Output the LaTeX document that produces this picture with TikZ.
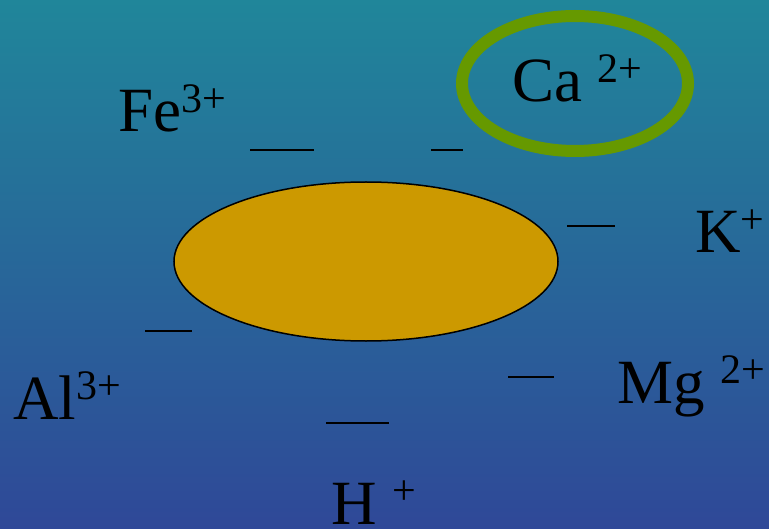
\documentclass[tikz,border=0pt]{standalone}
\usepackage{fontspec}
\setmainfont{Liberation Serif}
\usetikzlibrary{shapes.geometric}
\definecolor{bgtop}{RGB}{32,134,154}
\definecolor{bgbot}{RGB}{47,72,152}
\definecolor{clay}{RGB}{204,153,0}
\definecolor{ring}{RGB}{102,153,0}
\newcommand{\ionsup}[1]{\raisebox{19.5bp}{\fontsize{42bp}{42bp}\selectfont #1}}
\tikzset{
  ion/.style={anchor=base west, inner sep=0pt, outer sep=0pt, text=black,
    font=\fontsize{63bp}{63bp}\selectfont},
  charge/.style={draw=black, line width=2bp},
}
\begin{document}
\begin{tikzpicture}[x=1bp,y=-1bp]
\useasboundingbox (0,0) rectangle (769,529);
\shade[top color=bgtop, bottom color=bgbot] (0,0) rectangle (769,529);
% clay particle
\node[ellipse, draw=black, line width=1.5bp, fill=clay, minimum width=384bp, minimum height=159bp, inner sep=0pt] (clay) at (366,261.5) {};
% ring around Ca
\draw[ring, line width=12bp] (575,83.5) ellipse [x radius=113, y radius=67.5];
% ions
\node[ion] (fe) at (118,132) {Fe\ionsup{3+}};
\node[ion] (ca) at (512,102) {Ca \ionsup{2+}};
\node[ion] (k) at (695,253) {K\ionsup{+}};
\node[ion] (al) at (13,419) {Al\ionsup{3+}};
\node[ion] (mg) at (617,403) {Mg \ionsup{2+}};
\node[ion] (h) at (331,524) {H \ionsup{+}};
% negative charges
\coordinate (n1a) at (250,150.5); \coordinate (n1b) at (314,150.5);
\coordinate (n2a) at (431,150.5); \coordinate (n2b) at (463,150.5);
\coordinate (n3a) at (567,226); \coordinate (n3b) at (615,226);
\coordinate (n4a) at (145,331); \coordinate (n4b) at (192,331);
\coordinate (n5a) at (508,377); \coordinate (n5b) at (554,377);
\coordinate (n6a) at (326,422.5); \coordinate (n6b) at (389,422.5);
\draw[charge] (n1a) -- (n1b);
\draw[charge] (n2a) -- (n2b);
\draw[charge] (n3a) -- (n3b);
\draw[charge] (n4a) -- (n4b);
\draw[charge] (n5a) -- (n5b);
\draw[charge] (n6a) -- (n6b);
\end{tikzpicture}
\end{document}
